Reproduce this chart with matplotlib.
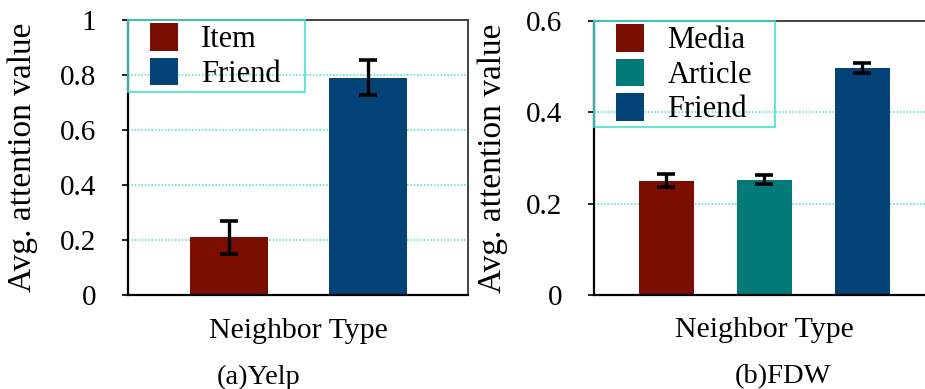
import matplotlib
matplotlib.use("Agg")
import matplotlib.pyplot as plt
import matplotlib.patches as mpatches
from matplotlib.legend_handler import HandlerPatch

plt.rcParams['font.family'] = ['Liberation Serif', 'DejaVu Serif']

# Yelp
yelp_types = ['Item', 'Friend']
yelp_vals = [0.21, 0.79]
yelp_err = [0.06, 0.063]
yelp_colors = ['#7a0e00', '#034377']

# FDW
fdw_types = ['Media', 'Article', 'Friend']
fdw_vals = [0.250, 0.252, 0.498]
fdw_err = [0.014, 0.010, 0.011]
fdw_colors = ['#7a0e00', '#027a78', '#034377']

yelp_ticks = [0, 0.2, 0.4, 0.6, 0.8, 1.0]
yelp_ticklabels = ['0', '0.2', '0.4', '0.6', '0.8', '1']
fdw_ticks = [0, 0.2, 0.4, 0.6]
fdw_ticklabels = ['0', '0.2', '0.4', '0.6']

grid_c = '#40e0d0'
FS_TICK = 21
FS_YLAB = 24
FS_XLAB = 21.5
FS_LEG = 22


class OffsetSquare(HandlerPatch):
    # square patch pushed to the right end of the handle box
    def create_artists(self, legend, orig_handle, xdescent, ydescent,
                       width, height, fontsize, trans):
        sq = height
        p = mpatches.Rectangle((width - sq - xdescent, -ydescent), sq, height,
                               facecolor=orig_handle.get_facecolor(),
                               edgecolor='none', transform=trans)
        return [p]


def draw(ax, names, vals, errs, colors, ticks, ticklabels, ymax, xlim, legw, ylx):
    x = list(range(1, len(names) + 1))
    ax.bar(x, vals, width=0.565, color=colors, zorder=2)
    ax.errorbar(x, vals, yerr=errs, fmt='none', ecolor='black',
                elinewidth=2.4, capsize=6.5, capthick=2.6, zorder=3)
    ax.set_xlim(*xlim)
    ax.set_ylim(0, ymax)
    ax.set_yticks(ticks)
    ax.set_yticklabels(ticklabels, fontsize=FS_TICK)
    ax.set_xticks([])
    ax.tick_params(axis='y', direction='out', length=4, width=1.2, pad=19)
    for t in ticks[1:-1] if ticks[-1] == ymax else ticks[1:]:
        ax.axhline(t, color=grid_c, lw=1.1, ls=(0, (1, 1.2)), zorder=1)
    for s in ['left', 'bottom']:
        ax.spines[s].set_linewidth(1.6)
        ax.spines[s].set_color('black')
    for s in ['top', 'right']:
        ax.spines[s].set_linewidth(1.4)
        ax.spines[s].set_color('#444444')
    ax.set_ylabel('Avg. attention value', fontsize=FS_YLAB)
    ax.yaxis.set_label_coords(ylx, 0.5)
    ax.set_xlabel('Neighbor Type', fontsize=FS_XLAB)
    ax.xaxis.set_label_coords(0.5, -0.082)
    handles = [mpatches.Patch(color=c, label=n) for n, c in zip(names, colors)]
    leg = ax.legend(handles=handles, loc='upper left',
                    bbox_to_anchor=(0, 1, legw, 0), mode='expand',
                    borderaxespad=0, borderpad=0.1, handlelength=1.52,
                    handleheight=1.03, handletextpad=0.78, labelspacing=0.1,
                    fontsize=FS_LEG, fancybox=False, frameon=True,
                    handler_map={mpatches.Patch: OffsetSquare()})
    fr = leg.get_frame()
    fr.set_edgecolor(grid_c)
    fr.set_linewidth(1.5)
    fr.set_facecolor('none')


fig = plt.figure(figsize=(9.25, 3.89), dpi=100)
W, H = 925.0, 389.0
ax1 = fig.add_axes([128 / W, 1 - 295 / H, 340 / W, 275 / H])
ax2 = fig.add_axes([594 / W, 1 - 295 / H, 340 / W, 274 / H])

draw(ax1, yelp_types, yelp_vals, yelp_err, yelp_colors,
     yelp_ticks, yelp_ticklabels, 1.0, (0.265, 2.728), 0.52, -0.264)
draw(ax2, fdw_types, fdw_vals, fdw_err, fdw_colors,
     fdw_ticks, fdw_ticklabels, 0.6, (0.261, 3.73), 0.532, -0.254)

fig.text(259 / W, 1 - 377 / H, '(a)Yelp', fontsize=20.5, ha='center', va='center')
fig.text(783 / W, 1 - 377 / H, '(b)FDW', fontsize=20.5, ha='center', va='center')

fig.savefig('out.png', dpi=100)
